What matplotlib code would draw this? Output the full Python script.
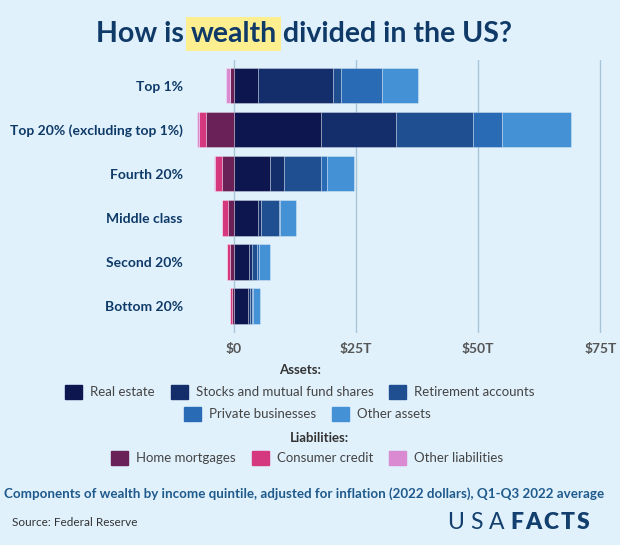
import matplotlib
matplotlib.use("Agg")
import matplotlib.pyplot as plt
import numpy as np
from matplotlib.patches import Patch

# Data (trillions of dollars)
groups = ["Top 1%", "Top 20% (excluding top 1%)", "Fourth 20%",
          "Middle class", "Second 20%", "Bottom 20%"]

asset_names = ["Real estate", "Stocks and mutual fund shares",
               "Retirement accounts", "Private businesses", "Other assets"]
real_estate = [4.9, 17.9, 7.3, 4.9, 3.1, 2.9]
stocks = [15.3, 15.2, 2.9, 0.7, 0.6, 0.3]
retirement = [1.8, 15.8, 7.7, 3.6, 1.1, 0.5]
private_biz = [8.3, 6.0, 1.2, 0.3, 0.3, 0.2]
other_assets = [7.3, 14.1, 5.4, 3.2, 2.2, 1.4]

liab_names = ["Home mortgages", "Consumer credit", "Other liabilities"]
mortgages = [0.7, 5.8, 2.5, 1.3, 0.8, 0.3]
consumer_credit = [0.05, 1.3, 1.4, 1.1, 0.6, 0.45]
other_liab = [0.8, 0.5, 0.2, 0.1, 0.05, 0.05]

ticks = [0, 25, 50, 75]
tick_labels = ["$0", "$25T", "$50T", "$75T"]

asset_colors = ["#0e1650", "#132e6b", "#1f4f91", "#2a6bb6", "#4591d6"]
liab_colors = ["#6a2158", "#d6387f", "#d98ad0"]

bg = "#e0f1fc"
navy = "#0f3a68"

fig = plt.figure(figsize=(6.2, 5.45), dpi=100, facecolor=bg)
W, H = 620, 545
# axes placed so $0 sits at x=234px and rows every 44px
ax = fig.add_axes([185 / W, 1 - 333 / H, (615 - 185) / W, (333 - 60) / H])
ax.set_facecolor(bg)

y = np.arange(len(groups))
left = np.zeros(len(groups))
for vals, c in zip([real_estate, stocks, retirement, private_biz, other_assets], asset_colors):
    ax.barh(y, vals, left=left, height=0.8, color=c, edgecolor=(1, 1, 1, 0.35),
            linewidth=0.6, zorder=3)
    left += np.array(vals)

left = np.zeros(len(groups))
for vals, c in zip([mortgages, consumer_credit, other_liab], liab_colors):
    v = -np.array(vals)
    ax.barh(y, v, left=left, height=0.8, color=c, edgecolor=(1, 1, 1, 0.35),
            linewidth=0.6, zorder=3)
    left += v

ax.set_xlim(-10, 78)
ax.set_ylim(5.61, -0.58)
ax.set_xticks(ticks)
ax.set_xticklabels(tick_labels, fontsize=10, fontweight="bold", color="#555555",
                   family="Lato")
ax.set_yticks(y)
ax.set_yticklabels(groups, fontsize=10, fontweight="bold", color=navy, family="Lato")
ax.tick_params(length=0, pad=7)
ax.tick_params(axis="y", pad=1.5)
ax.grid(axis="x", color="#a8c4d8", linewidth=1, zorder=0)
for s in ax.spines.values():
    s.set_visible(False)

fig.canvas.draw()
r = fig.canvas.get_renderer()


def place_run(pieces, x0, ybase, gap=0.0, **kw):
    # lay out text pieces one after another, starting at x0 (pixels)
    out = []
    x = x0
    for p in pieces:
        t = fig.text(x / W, 1 - ybase / H, p, **kw)
        x += t.get_window_extent(r).width + gap
        out.append(t)
    return out, x


# Title with highlighted word
tkw = dict(fontsize=20.5, fontweight="bold", color=navy, family="Lato", va="baseline")
parts = ["How is ", "wealth", " divided in the US?"]
tmp, xend = place_run(parts, 0, 42, **tkw)
for t in tmp:
    t.remove()
texts, _ = place_run(parts, 304 - xend / 2, 42, **tkw)
texts[1].set_bbox(dict(facecolor="#fdee8f", edgecolor="none", pad=3))

# Legends
lkw = dict(frameon=False, fontsize=9.5, handlelength=1.3, handleheight=1.3,
           handletextpad=0.6, columnspacing=1.2, loc="center")
fig.text(300 / W, 1 - 370 / H, "Assets:", ha="center", va="center",
         fontsize=9.5, fontweight="bold", color="#333333", family="Lato")
h = [Patch(color=c, label=n) for c, n in zip(asset_colors, asset_names)]
l1 = fig.legend(handles=h[:3], ncol=3, bbox_to_anchor=(300 / W, 1 - 392 / H), **lkw)
l2 = fig.legend(handles=h[3:], ncol=2, bbox_to_anchor=(307 / W, 1 - 414 / H), **lkw)
fig.text(319 / W, 1 - 438 / H, "Liabilities:", ha="center", va="center",
         fontsize=9.5, fontweight="bold", color="#333333", family="Lato")
hl = [Patch(color=c, label=n) for c, n in zip(liab_colors, liab_names)]
l3 = fig.legend(handles=hl, ncol=3, bbox_to_anchor=(307 / W, 1 - 458 / H), **lkw)
for lg in (l1, l2, l3):
    for t in lg.get_texts():
        t.set_color("#444444")
        t.set_family("Lato")

fig.text(304 / W, 1 - 494 / H,
         "Components of wealth by income quintile, adjusted for inflation (2022 dollars), Q1-Q3 2022 average",
         ha="center", va="center", fontsize=9.6, fontweight="bold", color="#1f5a8c", family="Lato")
fig.text(12 / W, 1 - 523 / H, "Source: Federal Reserve", ha="left", va="center",
         fontsize=8.5, color="#333333", family="Lato")

# USAFACTS wordmark, letter-spaced
_, xe = place_run(list("USA"), 447, 529, gap=6.5, fontsize=16.5, color="#123f6d",
                  family="Lato", fontweight="normal", va="baseline")
place_run(list("FACTS"), xe - 1, 529, gap=2, fontsize=16.5, color="#123f6d",
          family="Lato", fontweight="heavy", va="baseline")

fig.savefig("out.png", dpi=100, facecolor=bg)
